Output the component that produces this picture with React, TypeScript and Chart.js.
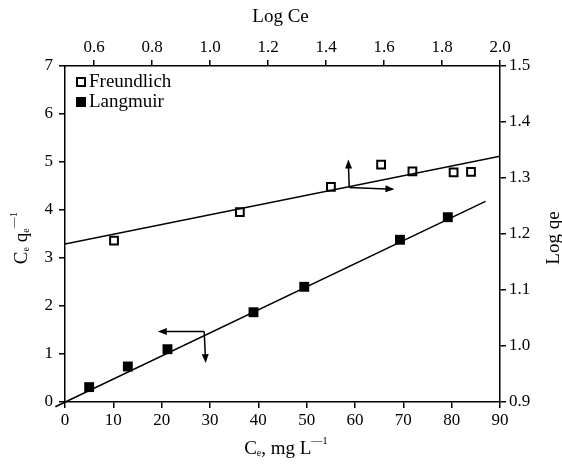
import { useEffect, useRef } from 'react';
import { Chart, registerables } from 'chart.js';

Chart.register(...registerables);

// Langmuir (bottom x: Ce, left y: Ce/qe)
const langmuirCe = [5.0, 13.0, 21.2, 39.0, 49.5, 69.3, 79.2];
const langmuirCeQe = [0.31, 0.74, 1.10, 1.87, 2.40, 3.38, 3.85];
const langmuirFitCe = [-2, 87];
const langmuirFitCeQe = [-0.1, 4.18];

// Freundlich (top x: Log Ce, right y: Log qe)
const freundlichLogCe = [0.669, 1.103, 1.417, 1.59, 1.698, 1.84, 1.9];
const freundlichLogQe = [1.188, 1.239, 1.284, 1.324, 1.312, 1.31, 1.311];
const freundlichFitLogCe = [0.5, 2.0];
const freundlichFitLogQe = [1.182, 1.339];

// Tick labels
const ceTicks = [0, 10, 20, 30, 40, 50, 60, 70, 80, 90];
const logCeTicks = [0.6, 0.8, 1.0, 1.2, 1.4, 1.6, 1.8, 2.0];
const ceQeTicks = [0, 1, 2, 3, 4, 5, 6, 7];
const logQeTicks = [0.9, 1.0, 1.1, 1.2, 1.3, 1.4, 1.5];

// Annotation arrows (data units): origin then tips
const langmuirArrowOrigin = [28.8, 1.47];
const langmuirArrowTips = [[19.2, 1.47], [29.1, 0.81]];
const freundlichArrowOrigin = [1.48, 1.283];
const freundlichArrowTips = [[1.477, 1.333], [1.636, 1.28]];

const FONT = '"Liberation Serif", "Times New Roman", serif';

function toXY(xs: number[], ys: number[]) {
  return xs.map((x, i) => ({ x, y: ys[i] }));
}

type Seg = { t: string; size: number; dy: number };

function drawComposite(ctx: CanvasRenderingContext2D, segs: Seg[]) {
  let total = 0;
  const widths = segs.map((s) => {
    ctx.font = `${s.size}px ${FONT}`;
    const w = ctx.measureText(s.t).width;
    total += w;
    return w;
  });
  let x = -total / 2;
  segs.forEach((s, i) => {
    ctx.font = `${s.size}px ${FONT}`;
    ctx.fillText(s.t, x, s.dy);
    x += widths[i];
  });
}

function drawArrow(ctx: CanvasRenderingContext2D, x0: number, y0: number, x1: number, y1: number) {
  const ang = Math.atan2(y1 - y0, x1 - x0);
  const L = 9;
  const W = 3.5;
  ctx.beginPath();
  ctx.moveTo(x0, y0);
  ctx.lineTo(x1 - Math.cos(ang) * (L - 1), y1 - Math.sin(ang) * (L - 1));
  ctx.stroke();
  ctx.beginPath();
  ctx.moveTo(x1, y1);
  ctx.lineTo(x1 - Math.cos(ang) * L - Math.sin(ang) * W, y1 - Math.sin(ang) * L + Math.cos(ang) * W);
  ctx.lineTo(x1 - Math.cos(ang) * L + Math.sin(ang) * W, y1 - Math.sin(ang) * L - Math.cos(ang) * W);
  ctx.closePath();
  ctx.fill();
}

const decorPlugin = {
  id: 'decor',
  afterDatasetsDraw(chart: any) {
    const ctx: CanvasRenderingContext2D = chart.ctx;
    const { x, y, x2, y2 } = chart.scales;
    const area = chart.chartArea;
    ctx.save();
    ctx.strokeStyle = '#000';
    ctx.fillStyle = '#000';
    ctx.lineWidth = 1.5;
    // arrows
    const lo = [x.getPixelForValue(langmuirArrowOrigin[0]), y.getPixelForValue(langmuirArrowOrigin[1])];
    langmuirArrowTips.forEach((t) => {
      drawArrow(ctx, lo[0], lo[1], x.getPixelForValue(t[0]), y.getPixelForValue(t[1]));
    });
    const fo = [x2.getPixelForValue(freundlichArrowOrigin[0]), y2.getPixelForValue(freundlichArrowOrigin[1])];
    freundlichArrowTips.forEach((t) => {
      drawArrow(ctx, fo[0], fo[1], x2.getPixelForValue(t[0]), y2.getPixelForValue(t[1]));
    });

    // legend
    const lx = area.left + 11;
    ctx.lineWidth = 2;
    ctx.strokeRect(lx + 1, area.top + 12, 8, 8);
    ctx.fillRect(lx, area.top + 31, 10, 10);
    ctx.font = `19px ${FONT}`;
    ctx.textAlign = 'left';
    ctx.textBaseline = 'middle';
    ctx.fillText('Freundlich', lx + 13, area.top + 16);
    ctx.fillText('Langmuir', lx + 13, area.top + 36);

    // titles
    ctx.textAlign = 'left';
    ctx.textBaseline = 'middle';
    ctx.save();
    ctx.translate((area.left + area.right) / 2 - 2, 17);
    drawComposite(ctx, [{ t: 'Log Ce', size: 19, dy: 0 }]);
    ctx.restore();

    ctx.save();
    ctx.translate(554, (area.top + area.bottom) / 2 + 4);
    ctx.rotate(-Math.PI / 2);
    drawComposite(ctx, [{ t: 'Log qe', size: 19, dy: 0 }]);
    ctx.restore();

    ctx.save();
    ctx.translate(22, (area.top + area.bottom) / 2 + 4);
    ctx.rotate(-Math.PI / 2);
    drawComposite(ctx, [
      { t: 'C', size: 19, dy: 0 },
      { t: 'e', size: 10, dy: 4 },
      { t: ' q', size: 19, dy: 0 },
      { t: 'e', size: 10, dy: 4 },
      { t: '—1', size: 11, dy: -8 },
    ]);
    ctx.restore();

    ctx.save();
    ctx.translate(286, 449);
    drawComposite(ctx, [
      { t: 'C', size: 19, dy: 0 },
      { t: 'e', size: 10, dy: 4 },
      { t: ', mg L', size: 19, dy: 0 },
      { t: '—1', size: 11, dy: -8 },
    ]);
    ctx.restore();
    ctx.restore();
  },
};

const axisCommon = {
  type: 'linear' as const,
  border: { display: true, color: '#000', width: 1.5 },
  grid: { drawOnChartArea: false, drawTicks: true, tickLength: 6, color: '#000', lineWidth: 1.5 },
};

export default function App() {
  const ref = useRef<HTMLCanvasElement | null>(null);
  useEffect(() => {
    document.body.style.margin = '0';
    if (!ref.current) return;
    const tickFont = { family: FONT, size: 17 };
    const chart = new Chart(ref.current, {
      type: 'scatter',
      data: {
        datasets: [
          {
            label: 'Langmuir fit',
            type: 'line',
            data: toXY(langmuirFitCe, langmuirFitCeQe),
            xAxisID: 'x',
            yAxisID: 'y',
            borderColor: '#000',
            borderWidth: 1.5,
            pointRadius: 0,
            clip: false as any,
          },
          {
            label: 'Freundlich fit',
            type: 'line',
            data: toXY(freundlichFitLogCe, freundlichFitLogQe),
            xAxisID: 'x2',
            yAxisID: 'y2',
            borderColor: '#000',
            borderWidth: 1.5,
            pointRadius: 0,
          },
          {
            label: 'Langmuir',
            data: toXY(langmuirCe, langmuirCeQe),
            xAxisID: 'x',
            yAxisID: 'y',
            pointStyle: 'rect',
            pointRadius: 7,
            backgroundColor: '#000',
            borderColor: '#000',
            borderWidth: 0,
          },
          {
            label: 'Freundlich',
            data: toXY(freundlichLogCe, freundlichLogQe),
            xAxisID: 'x2',
            yAxisID: 'y2',
            pointStyle: 'rect',
            pointRadius: 5.5,
            backgroundColor: '#fff',
            borderColor: '#000',
            borderWidth: 2,
          },
        ],
      },
      options: {
        animation: false,
        responsive: false,
        layout: { padding: 0 },
        plugins: { legend: { display: false }, tooltip: { enabled: false } },
        scales: {
          x: {
            ...axisCommon,
            position: 'bottom',
            min: 0,
            max: 90,
            afterBuildTicks: (s: any) => { s.ticks = ceTicks.map((v) => ({ value: v })); },
            afterFit: (s: any) => { s.height = 64; },
            ticks: { font: tickFont, color: '#000', padding: 2, maxRotation: 0, callback: (v: any) => String(v) },
          },
          x2: {
            ...axisCommon,
            position: 'top',
            min: 0.5,
            max: 2.0,
            afterBuildTicks: (s: any) => { s.ticks = logCeTicks.map((v) => ({ value: v })); },
            afterFit: (s: any) => { s.height = 66; },
            ticks: { font: tickFont, color: '#000', padding: 2, maxRotation: 0, callback: (v: any) => Number(v).toFixed(1) },
          },
          y: {
            ...axisCommon,
            position: 'left',
            min: 0,
            max: 7,
            afterBuildTicks: (s: any) => { s.ticks = ceQeTicks.map((v) => ({ value: v })); },
            afterFit: (s: any) => { s.width = 65; },
            ticks: { font: tickFont, color: '#000', padding: 6, callback: (v: any) => String(v) },
          },
          y2: {
            ...axisCommon,
            position: 'right',
            min: 0.9,
            max: 1.5,
            afterBuildTicks: (s: any) => { s.ticks = logQeTicks.map((v) => ({ value: v })); },
            afterFit: (s: any) => { s.width = 62; },
            ticks: { font: tickFont, color: '#000', padding: 3, callback: (v: any) => Number(v).toFixed(1) },
          },
        },
      } as any,
      plugins: [decorPlugin],
    });
    return () => chart.destroy();
  }, []);
  return <canvas ref={ref} width={562} height={466} style={{ display: 'block' }} />;
}
